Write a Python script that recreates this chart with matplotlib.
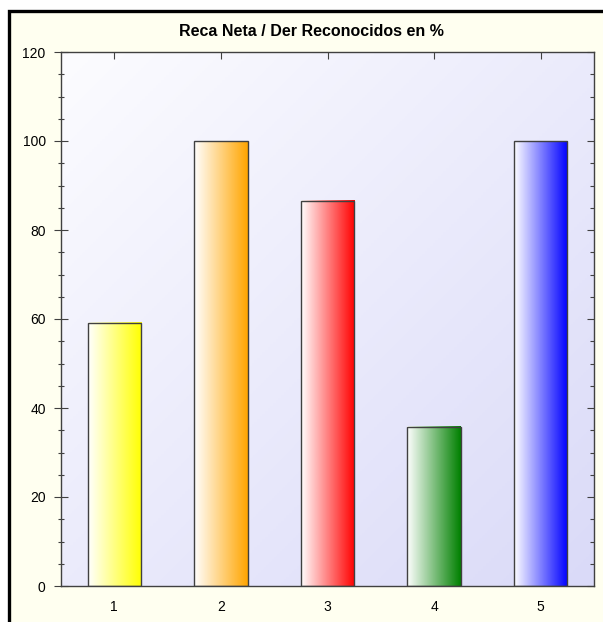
import matplotlib

matplotlib.use("Agg")

import matplotlib.pyplot as plt
import numpy as np
from matplotlib.colors import LinearSegmentedColormap
from matplotlib.patches import Rectangle

title = "Reca Neta / Der Reconocidos en %"
categories = [1, 2, 3, 4, 5]
values = [59.2, 100.0, 86.6, 35.8, 100.0]
bar_colors = ["#ffff00", "#ffa500", "#ff0000", "#008000", "#0000ff"]
y_ticks = [0, 20, 40, 60, 80, 100, 120]

plt.rcParams["font.family"] = ["Liberation Sans", "DejaVu Sans"]

W, H = 603, 622
fig = plt.figure(figsize=(W / 100, H / 100), dpi=100, facecolor="white")

# ivory panel with black frame on left and top (cropped right/bottom)
frame = Rectangle((9 / W, -0.1), 1.5, 1.1 - 11 / H,
                  transform=fig.transFigure, facecolor="#fffff0",
                  edgecolor="black", linewidth=2.4, zorder=-10)
fig.patches.append(frame)

ax = fig.add_axes([61 / W, 1 - 586 / H, (594 - 61) / W, (586 - 52) / H])
ax.set_facecolor("none")

# diagonal background gradient of the plot area, light top-left to lavender bottom-right
gx, gy = np.meshgrid(np.linspace(0, 1, 200), np.linspace(0, 1, 200))
t = (gx + gy) / 2
bg_cmap = LinearSegmentedColormap.from_list("bg", ["#fcfcff", "#dadaf8"])
ax.imshow(t, cmap=bg_cmap, extent=[0, 1, 0, 1], transform=ax.transAxes,
          aspect="auto", origin="upper", zorder=0, vmin=0, vmax=1)

width = 0.5
ramp = np.linspace(0, 1, 256).reshape(1, -1)
for x, v, c in zip(categories, values, bar_colors):
    cmap = LinearSegmentedColormap.from_list(f"b{x}", ["#ffffff", c])
    ax.imshow(ramp, cmap=cmap, extent=[x - width / 2, x + width / 2, 0, v],
              aspect="auto", zorder=2)
    ax.bar(x, v, width=width, facecolor="none", edgecolor="#404040",
           linewidth=1.0, zorder=3)

ax.set_xlim(0.5, 5.5)
ax.set_ylim(0, 120)
ax.set_xticks(categories)
ax.set_yticks(y_ticks)
ax.set_yticks(np.arange(0, 121, 5), minor=True)

for s in ax.spines.values():
    s.set_color("#404040")
    s.set_linewidth(1.0)
    s.set_zorder(4)

ax.tick_params(axis="x", direction="in", length=5, width=0.8, color="#404040",
               top=True, labelsize=10, pad=10)
ax.tick_params(axis="y", which="major", direction="inout", length=10, width=0.8,
               color="#404040", labelsize=10, pad=6)
ax.tick_params(axis="y", which="minor", direction="inout", length=4, width=0.8,
               color="#404040")

# right-side ticks point inward only
ax2 = ax.twinx()
ax2.set_ylim(ax.get_ylim())
ax2.set_yticks(y_ticks)
ax2.set_yticks(np.arange(0, 121, 5), minor=True)
ax2.tick_params(axis="y", which="major", direction="in", length=5, width=0.8,
                color="#404040", labelright=False)
ax2.tick_params(axis="y", which="minor", direction="in", length=3, width=0.8,
                color="#404040")
for s in ax2.spines.values():
    s.set_visible(False)

fig.text(311 / W, 1 - 31 / H, title, ha="center", va="center",
         fontsize=11.5, fontweight="bold")

fig.savefig("out.png", dpi=100)
